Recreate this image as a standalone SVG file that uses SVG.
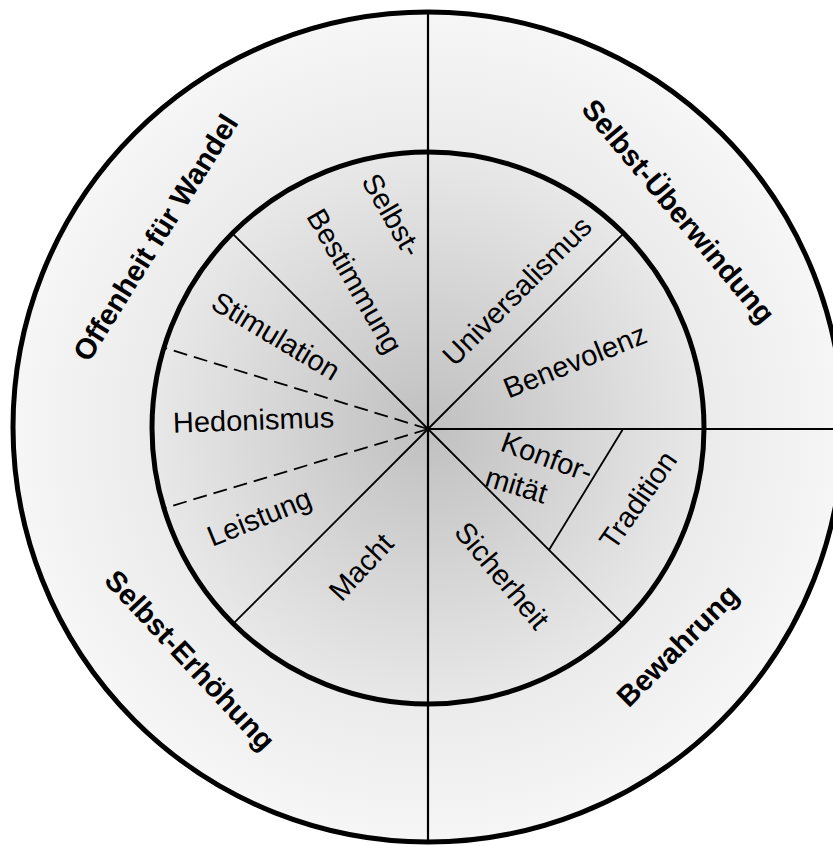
<svg xmlns="http://www.w3.org/2000/svg" width="833" height="846" viewBox="0 0 833 846">
  <defs>
    <radialGradient id="ringFill" gradientUnits="userSpaceOnUse" cx="428" cy="428" r="415">
      <stop offset="0" stop-color="#dcdcdc"/>
      <stop offset="0.66" stop-color="#ebebeb"/>
      <stop offset="1" stop-color="#f6f6f6"/>
    </radialGradient>
    <radialGradient id="coreFill" gradientUnits="userSpaceOnUse" cx="428" cy="429" r="276">
      <stop offset="0" stop-color="#c0c0c0"/>
      <stop offset="1" stop-color="#e8e8e8"/>
    </radialGradient>
    <style>
      .ring { stroke: #000; stroke-width: 5; }
      .axis { stroke: #000; stroke-width: 2.2; fill: none; }
      .div { stroke: #000; stroke-width: 1.8; fill: none; }
      .dash { stroke: #000; stroke-width: 1.8; fill: none; stroke-dasharray: 14 7; }
      text { font-family: "Liberation Sans", Arial, sans-serif; font-size: 29px; fill: #000; text-anchor: middle; }
      .group text { font-weight: bold; }
    </style>
  </defs>

  <!-- outer ring and inner disc -->
  <g id="outer-circle">
    <circle cx="428" cy="427" r="415" fill="url(#ringFill)" class="ring"/>
  </g>
  <g id="inner-circle">
    <circle cx="428" cy="428" r="276" fill="url(#coreFill)" class="ring"/>
  </g>

  <!-- sector dividers -->
  <g id="connectors">
    <line class="axis" x1="428" y1="12" x2="428" y2="842"/>
    <line class="axis" x1="428" y1="429" x2="833" y2="429"/>
    <line class="div" x1="428" y1="429" x2="623.2" y2="233.8"/>
    <line class="div" x1="428" y1="429" x2="232.8" y2="233.8"/>
    <line class="div" x1="428" y1="429" x2="232.8" y2="624.2"/>
    <line class="div" x1="428" y1="429" x2="623.2" y2="624.2"/>
    <line class="dash" x1="428" y1="429" x2="165" y2="348"/>
    <line class="dash" x1="428" y1="429" x2="165" y2="508"/>
    <line class="div" x1="623" y1="429" x2="549" y2="550"/>
  </g>

  <!-- higher-order value groups (outer ring) -->
  <g class="group">
    <g id="offenheit" transform="translate(155.5,237.5) rotate(-58)"><text x="0" y="10">Offenheit für Wandel</text></g>
    <g id="selbst-ueberwindung" transform="translate(677,212.5) rotate(50)"><text x="0" y="8">Selbst-Überwindung</text></g>
    <g id="selbst-erhoehung" transform="translate(188.5,661.5) rotate(47)"><text x="0" y="8">Selbst-Erhöhung</text></g>
    <g id="bewahrung" transform="translate(679,647) rotate(-45)"><text x="0" y="8">Bewahrung</text></g>
  </g>

  <!-- basic values (inner disc) -->
  <g id="selbstbestimmung">
    <text transform="translate(392,215) rotate(60)" x="0" y="10">Selbst-</text>
    <text transform="translate(353,282) rotate(60)" x="0" y="8">Bestimmung</text>
  </g>
  <g id="stimulation"><text transform="translate(276,336) rotate(31)" x="0" y="10">Stimulation</text></g>
  <g id="hedonismus"><text transform="translate(253.5,420) rotate(-2)" x="0" y="10">Hedonismus</text></g>
  <g id="leistung"><text transform="translate(260,519) rotate(-22)" x="0" y="8">Leistung</text></g>
  <g id="macht"><text transform="translate(361,567) rotate(-47)" x="0" y="10">Macht</text></g>
  <g id="universalismus"><text transform="translate(517,291) rotate(-45)" x="0" y="10">Universalismus</text></g>
  <g id="benevolenz"><text transform="translate(575,361) rotate(-22)" x="0" y="10">Benevolenz</text></g>
  <g id="konformitaet">
    <text transform="translate(547,457) rotate(20)" x="0" y="10">Konfor-</text>
    <text transform="translate(516.5,485) rotate(17)" x="0" y="10">mität</text>
  </g>
  <g id="tradition"><text transform="translate(638,500) rotate(-55)" x="0" y="10">Tradition</text></g>
  <g id="sicherheit"><text transform="translate(502,575.5) rotate(50)" x="0" y="10">Sicherheit</text></g>
</svg>
